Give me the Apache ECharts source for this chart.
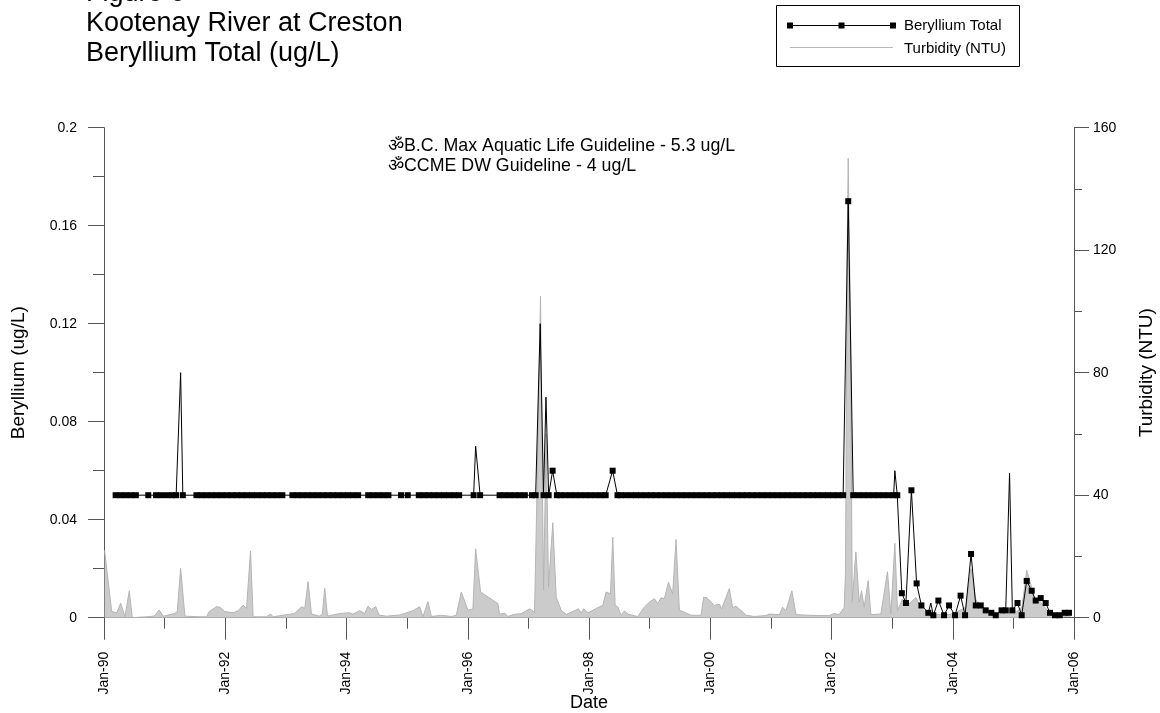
<!DOCTYPE html>
<html>
<head>
<meta charset="utf-8">
<script src="https://cdn.jsdelivr.net/npm/echarts/dist/echarts.min.js"></script>
<style>html,body{margin:0;padding:0;background:#fff}#chart{width:1160px;height:713px}</style>
</head>
<body>
<div id="chart"></div>
<script>
const titleLines = ['Figure 6', 'Kootenay River at Creston', 'Beryllium Total (ug/L)'];
const guidelineNotes = ['ॐB.C. Max Aquatic Life Guideline - 5.3 ug/L', 'ॐCCME DW Guideline - 4 ug/L'];
const seriesNames = ['Beryllium Total', 'Turbidity (NTU)'];
const axisNames = { x: 'Date', left: 'Beryllium (ug/L)', right: 'Turbidity (NTU)' };

// [decimal year, ug/L]
const beryllium = [
 [1990.192,0.05],[1990.275,0.05],[1990.358,0.05],[1990.442,0.05],[1990.525,0.05],
 [1990.73,0.05],[1990.858,0.05],[1990.942,0.05],
 [1991.038,0.05],[1991.12,0.05],[1991.19,0.05],[1991.264,0.10],[1991.30,0.05],
 [1991.525,0.05],[1991.608,0.05],[1991.692,0.05],[1991.775,0.05],[1991.858,0.05],[1991.942,0.05],
 [1992.025,0.05],[1992.108,0.05],[1992.192,0.05],[1992.275,0.05],[1992.358,0.05],[1992.442,0.05],
 [1992.525,0.05],[1992.608,0.05],[1992.692,0.05],[1992.775,0.05],[1992.858,0.05],[1992.942,0.05],
 [1993.108,0.05],[1993.192,0.05],[1993.275,0.05],[1993.358,0.05],[1993.442,0.05],[1993.525,0.05],
 [1993.608,0.05],[1993.692,0.05],[1993.775,0.05],[1993.858,0.05],[1993.942,0.05],
 [1994.025,0.05],[1994.108,0.05],[1994.192,0.05],
 [1994.358,0.05],[1994.442,0.05],[1994.525,0.05],[1994.608,0.05],[1994.692,0.05],
 [1994.9,0.05],[1995.01,0.05],
 [1995.192,0.05],[1995.275,0.05],[1995.358,0.05],[1995.442,0.05],[1995.525,0.05],[1995.608,0.05],
 [1995.692,0.05],[1995.775,0.05],[1995.858,0.05],
 [1996.097,0.05],[1996.13,0.07],[1996.204,0.05],
 [1996.525,0.05],[1996.608,0.05],[1996.692,0.05],[1996.775,0.05],[1996.858,0.05],[1996.942,0.05],
 [1997.06,0.05],[1997.12,0.05],[1997.195,0.12],[1997.25,0.05],[1997.29,0.09],[1997.335,0.05],[1997.40,0.06],
 [1997.47,0.05],[1997.525,0.05],[1997.608,0.05],[1997.692,0.05],[1997.775,0.05],[1997.858,0.05],[1997.942,0.05],
 [1998.025,0.05],[1998.108,0.05],[1998.192,0.05],[1998.275,0.05],[1998.39,0.06],
 [1998.47,0.05],[1998.525,0.05],[1998.608,0.05],[1998.692,0.05],[1998.775,0.05],[1998.858,0.05],[1998.942,0.05],
 [1999.025,0.05],[1999.108,0.05],[1999.192,0.05],[1999.275,0.05],[1999.358,0.05],[1999.442,0.05],
 [1999.525,0.05],[1999.608,0.05],[1999.692,0.05],[1999.775,0.05],[1999.858,0.05],[1999.942,0.05],
 [2000.025,0.05],[2000.108,0.05],[2000.192,0.05],[2000.275,0.05],[2000.358,0.05],[2000.442,0.05],
 [2000.525,0.05],[2000.608,0.05],[2000.692,0.05],[2000.775,0.05],[2000.858,0.05],[2000.942,0.05],
 [2001.025,0.05],[2001.108,0.05],[2001.192,0.05],[2001.275,0.05],[2001.358,0.05],[2001.442,0.05],
 [2001.525,0.05],[2001.608,0.05],[2001.692,0.05],[2001.775,0.05],[2001.858,0.05],[2001.942,0.05],
 [2002.025,0.05],[2002.108,0.05],[2002.192,0.05],[2002.276,0.17],
 [2002.358,0.05],[2002.442,0.05],[2002.525,0.05],[2002.608,0.05],[2002.692,0.05],[2002.775,0.05],
 [2002.858,0.05],[2002.942,0.05],[2003.025,0.05],[2003.045,0.06],[2003.085,0.05],
 [2003.16,0.010],[2003.228,0.006],[2003.318,0.052],[2003.404,0.014],[2003.483,0.005],[2003.597,0.002],
 [2003.638,0.006],[2003.68,0.001],[2003.763,0.007],[2003.857,0.001],[2003.939,0.005],
 [2004.038,0.001],[2004.129,0.009],[2004.203,0.001],[2004.302,0.026],[2004.38,0.005],[2004.462,0.005],
 [2004.544,0.003],[2004.637,0.002],[2004.709,0.001],[2004.805,0.003],[2004.874,0.003],[2004.937,0.059],
 [2004.983,0.003],[2005.068,0.006],[2005.137,0.001],[2005.22,0.015],[2005.302,0.011],[2005.368,0.007],
 [2005.451,0.008],[2005.533,0.006],[2005.604,0.002],[2005.686,0.001],[2005.764,0.001],[2005.846,0.002],
 [2005.917,0.002]
];
// samples drawn without a marker in the reference
const beNoMarker = [1991.264, 1996.13, 1997.195, 1997.29, 2003.045, 2003.638, 2004.937];

// [decimal year, NTU]
const turbidity = [
 [1990.01,22],[1990.127,2],[1990.209,1.6],[1990.275,4.7],[1990.346,0.3],[1990.417,8.8],[1990.466,0],
 [1990.70,0.3],[1990.824,0.5],[1990.911,2.5],[1990.977,0.5],[1991.17,1.4],[1991.208,2],[1991.264,16.1],
 [1991.335,0.5],[1991.582,0.3],[1991.692,0.3],[1991.735,2],[1991.857,3.6],[1991.911,3.4],[1991.994,2],
 [1992.131,1.6],[1992.213,2.3],[1992.295,4.1],[1992.351,3],[1992.417,21.8],[1992.46,0.3],[1992.681,0.3],
 [1992.747,1.2],[1992.79,0.3],[1993.147,1.4],[1993.258,3.6],[1993.312,3],[1993.366,11.8],[1993.422,1.2],
 [1993.559,0.5],[1993.603,1.4],[1993.641,9.6],[1993.686,0.5],[1993.889,1.4],[1994.053,1.6],[1994.108,1.2],
 [1994.218,2.3],[1994.30,1.4],[1994.355,3.8],[1994.411,2.7],[1994.482,3.6],[1994.536,0.9],[1994.658,0.5],
 [1994.877,0.9],[1994.96,1.4],[1995.096,2.3],[1995.207,3.6],[1995.261,0.3],[1995.344,5.2],[1995.40,0.4],
 [1995.564,0.8],[1995.729,0.4],[1995.811,0.8],[1995.894,8.4],[1996.003,2.4],[1996.085,2.9],[1996.13,22.5],
 [1996.212,8.4],[1996.497,4.6],[1996.525,1.1],[1996.608,1.5],[1996.662,0.4],[1996.772,1.1],[1996.883,1.3],
 [1997.019,2.9],[1997.102,1.8],[1997.146,45],[1997.20,105],[1997.25,9],[1997.294,60],[1997.332,10],
 [1997.403,31],[1997.459,6.7],[1997.542,2.4],[1997.625,1.1],[1997.706,1.8],[1997.827,2.9],[1997.871,1.5],
 [1997.914,2.9],[1997.98,1.5],[1998.145,3.3],[1998.227,4],[1998.283,8.4],[1998.354,7.8],[1998.392,26.3],
 [1998.431,4],[1998.475,3.5],[1998.53,0.8],[1998.585,2.2],[1998.651,1.1],[1998.804,0.4],[1998.914,3.5],
 [1998.997,5.1],[1999.079,6.2],[1999.133,4.6],[1999.189,6.5],[1999.244,6.2],[1999.31,11.6],[1999.38,7.8],
 [1999.436,25.5],[1999.491,2.4],[1999.573,1.8],[1999.684,0.8],[1999.848,0.8],[1999.891,6.7],[1999.947,6.5],
 [2000.067,4],[2000.15,4.4],[2000.188,2.9],[2000.315,9.5],[2000.369,3.3],[2000.425,3.7],[2000.507,2.4],
 [2000.59,0.8],[2000.727,0.4],[2000.919,0.7],[2000.974,1.2],[2001.139,1],[2001.193,3.4],[2001.249,2.3],
 [2001.346,8.8],[2001.414,1],[2001.743,0.7],[2001.962,0.7],[2002.045,1.4],[2002.127,1],[2002.21,3.4],
 [2002.231,15],[2002.259,120],[2002.276,150],[2002.317,90],[2002.342,5],[2002.402,21.5],[2002.457,5],
 [2002.495,8.8],[2002.539,3.4],[2002.605,12.1],[2002.65,1],[2002.814,1.2],[2002.923,15],[2002.979,1.2],
 [2003.045,24.3],[2003.088,2.3],[2003.17,6.1],[2003.226,5],[2003.28,4.5],[2003.391,6.6],[2003.445,4.5],
 [2003.50,2.8],[2003.582,1.2],[2003.72,1],[2003.939,1],[2004.05,1.7],[2004.214,3.4],[2004.302,16],
 [2004.38,6],[2004.467,3],[2004.599,1.5],[2004.764,1],[2004.862,2.5],[2004.961,3],[2005.06,2],
 [2005.143,3.5],[2005.22,15.5],[2005.302,9.8],[2005.368,5.4],[2005.451,5],[2005.533,3],[2005.62,1],
 [2005.751,0.5],[2005.949,0.5]
];

const FONT = '"Liberation Sans", Arial, sans-serif';
const chart = echarts.init(document.getElementById('chart'), null, { renderer: 'canvas' });

const beData = beryllium.map(p => beNoMarker.includes(p[0]) ? { value: p, symbol: 'none' } : p);

const axisGray = '#555';
const graphics = [];
titleLines.forEach((t, i) => graphics.push({
  type: 'text', x: 86, y: -6 + i * 30,
  style: { text: t, font: '27px ' + FONT, fill: '#000', verticalAlign: 'middle', align: 'left' }
}));
guidelineNotes.forEach((t, i) => graphics.push({
  type: 'text', x: 388, y: 146.5 + i * 19.5,
  style: { text: t, font: '17.8px ' + FONT, fill: '#000', verticalAlign: 'middle', align: 'left' }
}));
// legend box
graphics.push({ type: 'rect', shape: { x: 776.5, y: 5.5, width: 243, height: 61 },
  style: { fill: '#fff', stroke: '#000', lineWidth: 1 }, z: 10 });
graphics.push({ type: 'line', shape: { x1: 790, y1: 25.5, x2: 893, y2: 25.5 },
  style: { stroke: '#000', lineWidth: 1 }, z: 11 });
[790, 841.5, 893].forEach(x => graphics.push({ type: 'rect',
  shape: { x: x - 3, y: 22.5, width: 6, height: 6 }, style: { fill: '#000' }, z: 12 }));
graphics.push({ type: 'line', shape: { x1: 790, y1: 47.5, x2: 893, y2: 47.5 },
  style: { stroke: '#b8b8b8', lineWidth: 1 }, z: 11 });
seriesNames.forEach((t, i) => graphics.push({
  type: 'text', x: 904, y: 26 + i * 22.5, z: 12,
  style: { text: t, font: '15px ' + FONT, fill: '#000', verticalAlign: 'middle', align: 'left' }
}));

const option = {
  animation: false,
  backgroundColor: '#fff',
  textStyle: { fontFamily: FONT },
  grid: { left: 104, right: 86, top: 127.7, bottom: 95.3, containLabel: false, outerBoundsMode: 'none' },
  xAxis: {
    type: 'value', min: 1990, max: 2006, interval: 2,
    name: axisNames.x, nameLocation: 'middle', nameGap: 76, nameMoveOverlap: false,
    nameTextStyle: { fontSize: 18, color: '#000', fontFamily: FONT },
    axisLine: { onZero: false, lineStyle: { color: axisGray, width: 1 } },
    axisTick: { show: true, length: 22, lineStyle: { color: axisGray } },
    minorTick: { show: true, splitNumber: 2, length: 11, lineStyle: { color: axisGray } },
    axisLabel: { rotate: 90, margin: 34, fontSize: 14, color: '#000', fontFamily: FONT,
      formatter: v => 'Jan-' + String(v % 100).padStart(2, '0') },
    splitLine: { show: false }, minorSplitLine: { show: false }
  },
  yAxis: [
    {
      type: 'value', min: 0, max: 0.2, interval: 0.04, position: 'left',
      name: axisNames.left, nameLocation: 'middle', nameGap: 76, nameMoveOverlap: false,
      nameTextStyle: { fontSize: 19, color: '#000', fontFamily: FONT },
      axisLine: { show: true, lineStyle: { color: axisGray } },
      axisTick: { show: true, length: 16, lineStyle: { color: axisGray } },
      minorTick: { show: true, splitNumber: 2, length: 11, lineStyle: { color: axisGray } },
      axisLabel: { margin: 27, fontSize: 14, color: '#000', fontFamily: FONT,
        formatter: v => String(+v.toFixed(2)) },
      splitLine: { show: false }, minorSplitLine: { show: false }
    },
    {
      type: 'value', min: 0, max: 160, interval: 40, position: 'right',
      name: axisNames.right, nameLocation: 'middle', nameGap: 63, nameMoveOverlap: false,
      nameTextStyle: { fontSize: 19, color: '#000', fontFamily: FONT },
      axisLine: { show: true, lineStyle: { color: axisGray } },
      axisTick: { show: true, length: 15, lineStyle: { color: axisGray } },
      minorTick: { show: true, splitNumber: 2, length: 8, lineStyle: { color: axisGray } },
      axisLabel: { margin: 19, fontSize: 14, color: '#000', fontFamily: FONT },
      splitLine: { show: false }, minorSplitLine: { show: false }
    }
  ],
  series: [
    {
      name: seriesNames[1], type: 'line', yAxisIndex: 1, data: turbidity,
      symbol: 'none', smooth: false, z: 1,
      lineStyle: { color: '#b4b4b4', width: 1 },
      areaStyle: { color: '#cbcbcb', opacity: 1 }
    },
    {
      name: seriesNames[0], type: 'line', yAxisIndex: 0, data: beData,
      symbol: 'rect', symbolSize: 6, showAllSymbol: true, z: 3,
      lineStyle: { color: '#000', width: 1 },
      itemStyle: { color: '#000', borderWidth: 0 }
    }
  ],
  graphic: graphics
};
chart.setOption(option);
</script>
</body>
</html>
